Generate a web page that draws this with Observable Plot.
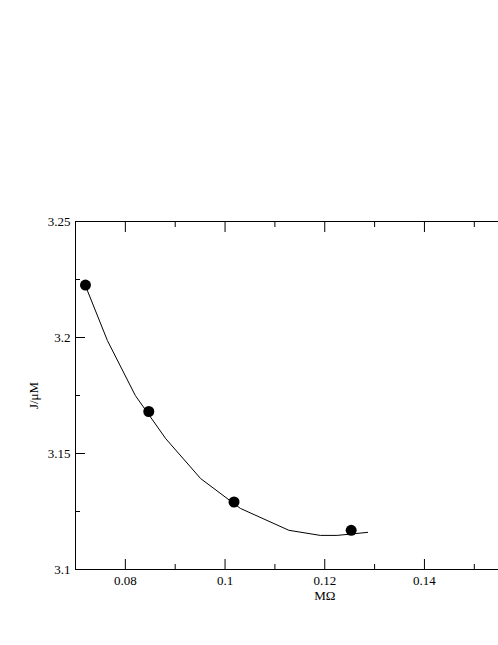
<!DOCTYPE html>
<html>
<head>
<meta charset="utf-8">
<script src="https://cdn.jsdelivr.net/npm/d3@7"></script>
<script src="https://cdn.jsdelivr.net/npm/@observablehq/plot@0.6"></script>
<style>
  html, body { margin: 0; padding: 0; background: #fff; overflow: hidden; }
</style>
</head>
<body>
<div id="chart"></div>
<script>
// Measured points
const pointX = [0.0720, 0.0847, 0.1018, 0.1253];
const pointY = [3.2226, 3.1681, 3.1291, 3.1169];

// Fitted curve (polyline vertices)
const curveX = [0.0720, 0.0764, 0.0820, 0.0881, 0.0951, 0.1031, 0.1128, 0.1191, 0.1225, 0.1286];
const curveY = [3.2223, 3.1987, 3.1750, 3.1564, 3.1392, 3.1263, 3.1169, 3.1147, 3.1147, 3.1160];

const xDomain = [0.07, 0.17];
const yDomain = [3.1, 3.25];
const xMajor = [0.08, 0.1, 0.12, 0.14, 0.16];
const xMinor = [0.09, 0.11, 0.13, 0.15];
const xLabelTicks = [0.08, 0.1, 0.12, 0.14];
const yMajor = [3.1, 3.15, 3.2, 3.25];
const yMinor = [3.125, 3.175, 3.225];
const xLabel = "MΩ";
const yLabel = "J/μM";

const points = pointX.map((x, i) => ({x, y: pointY[i]}));
const curve = curveX.map((x, i) => ({x, y: curveY[i]}));
const fmt = d => `${d}`;
const none = () => "";

const chart = Plot.plot({
  width: 498,
  height: 645,
  marginLeft: 75,
  marginRight: 0,
  marginTop: 221,
  marginBottom: 76,
  style: {fontFamily: "'Liberation Serif', 'DejaVu Serif', serif", fontSize: "13px", color: "#000", background: "#fff", overflow: "hidden"},
  x: {domain: xDomain, range: [75, 573.5]},
  y: {domain: yDomain},
  marks: [
    // frame (left, top, bottom)
    Plot.ruleX([xDomain[0]], {stroke: "#000", strokeWidth: 1}),
    Plot.ruleY(yDomain, {stroke: "#000", strokeWidth: 1}),
    // ticks inward
    Plot.axisX(xMajor, {anchor: "bottom", tickSize: -10, tickFormat: none, label: null}),
    Plot.axisX(xMinor, {anchor: "bottom", tickSize: -5, tickFormat: none, label: null}),
    Plot.axisX(xMajor, {anchor: "top", tickSize: -10, tickFormat: none, label: null}),
    Plot.axisX(xMinor, {anchor: "top", tickSize: -5, tickFormat: none, label: null}),
    Plot.axisY(yMajor, {anchor: "left", tickSize: -10, tickFormat: none, label: null}),
    Plot.axisY(yMinor, {anchor: "left", tickSize: -5, tickFormat: none, label: null}),
    // tick labels
    Plot.axisX(xLabelTicks, {anchor: "bottom", tickSize: 0, tickPadding: 6, tickFormat: fmt, label: null, fontSize: 13, fill: "#000"}),
    Plot.axisY(yMajor, {anchor: "left", tickSize: 0, tickPadding: 5, tickFormat: fmt, label: null, fontSize: 13, fill: "#000"}),
    // axis titles
    Plot.text([xLabel], {x: () => (xDomain[0] + xDomain[1]) / 2, frameAnchor: "bottom", dy: 26, lineAnchor: "middle", fontSize: 13, fill: "#000"}),
    Plot.text([yLabel], {frameAnchor: "left", dx: -42, rotate: -90, lineAnchor: "middle", textAnchor: "middle", fontSize: 13, fill: "#000"}),
    // data
    Plot.line(curve, {x: "x", y: "y", stroke: "#000", strokeWidth: 1}),
    Plot.dot(points, {x: "x", y: "y", r: 5.5, fill: "#000", stroke: "none"})
  ]
});
document.getElementById("chart").appendChild(chart);
</script>
</body>
</html>
